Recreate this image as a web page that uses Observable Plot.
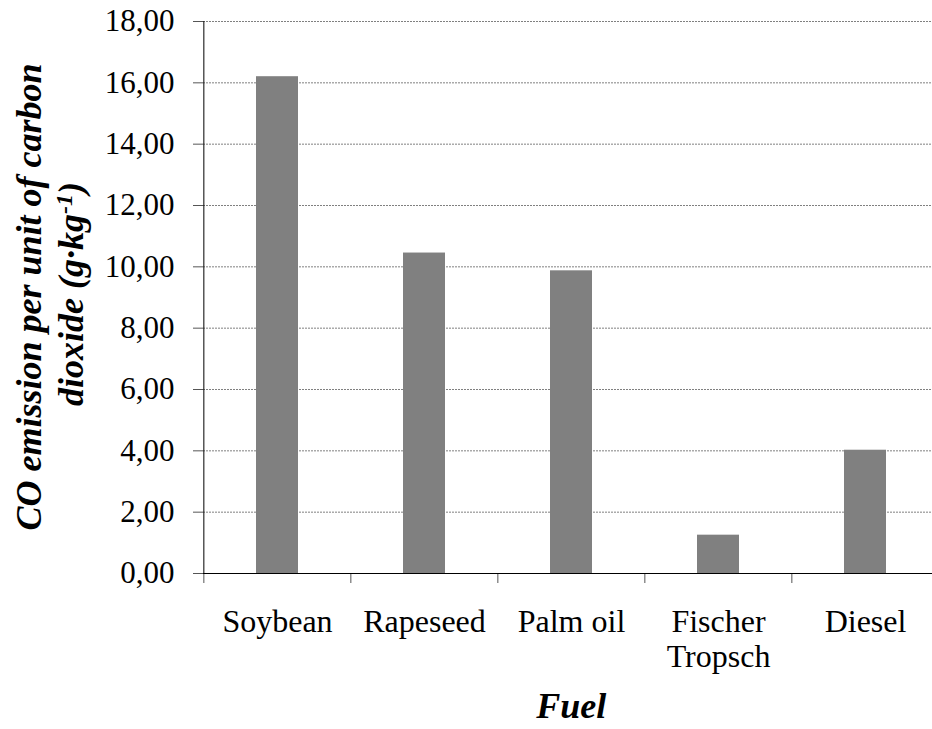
<!DOCTYPE html>
<html>
<head>
<meta charset="utf-8">
<script src="https://cdn.jsdelivr.net/npm/d3@7"></script>
<script src="https://cdn.jsdelivr.net/npm/@observablehq/plot@0.6"></script>
<style>
  html, body { margin: 0; padding: 0; background: #fff; }
  #chart svg { display: block; }
</style>
</head>
<body>
<div id="chart"></div>
<script>
const categories = ["Soybean", "Rapeseed", "Palm oil", "Fischer\nTropsch", "Diesel"];
const values = [16.2, 10.45, 9.87, 1.25, 4.02];
const yTicks = [0, 2, 4, 6, 8, 10, 12, 14, 16, 18];

const data = categories.map((c, i) => ({fuel: c, value: values[i]}));

const W = 932, H = 729;
const xRange = [203, 939.5];
const step = (xRange[1] - xRange[0]) / categories.length;
const fmt = d => d.toFixed(2).replace(".", ",");

const chart = Plot.plot({
  width: W,
  height: H,
  marginLeft: 203,
  marginRight: 0,
  marginTop: 21,
  marginBottom: 156,
  style: {fontFamily: "'Liberation Serif', 'Times New Roman', serif", fontSize: "31px", color: "black", background: "white"},
  x: {domain: categories, range: xRange, paddingInner: 0.717, paddingOuter: 0.3585, label: null},
  y: {domain: [0, 18], label: null},
  marks: [
    Plot.gridY(yTicks.slice(1), {stroke: "#808080", strokeOpacity: 1, strokeDasharray: "2,1"}),
    Plot.barY(data, {x: "fuel", y: "value", fill: "#808080"}),
    Plot.axisY({ticks: yTicks, tickFormat: fmt, tickSize: 10, tickPadding: 19, stroke: "#555", fill: "black", label: null}),
    Plot.axisX({tickSize: 10, tickFormat: () => "", dx: -step / 2, stroke: "#555", label: null}),
    Plot.axisX({tickSize: 0, tickPadding: 33, lineHeight: 1.1, fontSize: 32, fill: "black", label: null}),
    Plot.ruleY([0], {stroke: "black", strokeWidth: 1}),
    Plot.ruleX([categories[0]], {dx: -step / 2, y1: 0, y2: 18, stroke: "black", strokeWidth: 1})
  ]
});

document.getElementById("chart").appendChild(chart);

const svg = d3.select(chart);
const font = "'Liberation Serif', 'Times New Roman', serif";
const cy = (21 + 573) / 2;

svg.append("text")
  .attr("transform", `translate(41,${cy}) rotate(-90)`)
  .attr("text-anchor", "middle")
  .attr("font-family", font)
  .attr("font-size", 36)
  .attr("font-weight", "bold")
  .attr("font-style", "italic")
  .attr("fill", "black")
  .text("CO emission per unit of carbon");

const t2 = svg.append("text")
  .attr("transform", `translate(83,${cy - 3}) rotate(-90)`)
  .attr("text-anchor", "middle")
  .attr("font-family", font)
  .attr("font-size", 36)
  .attr("font-weight", "bold")
  .attr("font-style", "italic")
  .attr("fill", "black");
t2.append("tspan").text("dioxide (g·kg");
t2.append("tspan").attr("dy", "-0.45em").attr("font-size", 24).text("-1");
t2.append("tspan").attr("dy", "0.3em").text(")");

svg.append("text")
  .attr("x", (xRange[0] + xRange[1]) / 2)
  .attr("y", 718)
  .attr("text-anchor", "middle")
  .attr("font-family", font)
  .attr("font-size", 36)
  .attr("font-weight", "bold")
  .attr("font-style", "italic")
  .attr("fill", "black")
  .text("Fuel");
</script>
</body>
</html>
